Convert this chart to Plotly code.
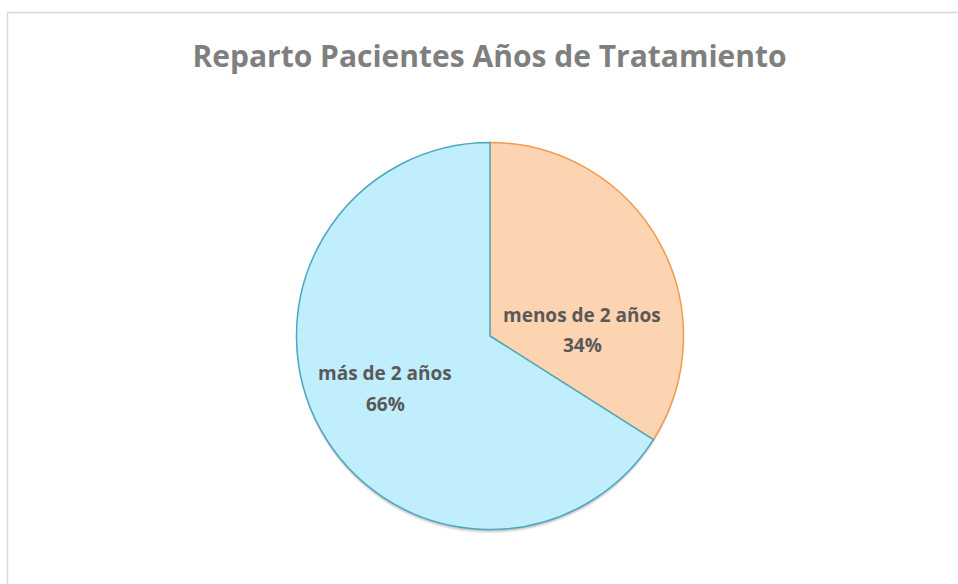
import plotly.graph_objects as go

categories = ["menos de 2 años", "más de 2 años"]
values = [34, 66]
fill_colors = ["#fdd4b2", "#c0eefc"]
line_colors = ["#f39a4c", "#4aa8c0"]
title_text = "Reparto Pacientes Años de Tratamiento"
# label anchor positions (pixels) for each slice's data label: name line and percent line
label_pos = [(582, 315, 345), (385, 373, 404)]

W, H = 958, 584
cx, cy, r = 490, 336, 193.5

total = sum(values)
percents = [f"{round(v / total * 100)}%" for v in values]

fig = go.Figure(go.Pie(
    labels=categories,
    values=values,
    sort=False,
    direction="clockwise",
    rotation=0,
    marker=dict(colors=fill_colors, line=dict(color=line_colors, width=1.5)),
    textinfo="none",
    showlegend=False,
    hoverinfo="label+percent",
    domain=dict(x=[(cx - r) / W, (cx + r) / W], y=[1 - (cy + r) / H, 1 - (cy - r) / H]),
))

annotations = []
font = dict(family="Open Sans", size=19, color="#595959", weight="bold")
for name, pct, (lx, ly1, ly2) in zip(categories, percents, label_pos):
    annotations.append(dict(text=name, x=lx / W, y=1 - ly1 / H, xref="paper", yref="paper",
                            xanchor="center", yanchor="middle", showarrow=False, font=font))
    annotations.append(dict(text=pct, x=lx / W, y=1 - ly2 / H, xref="paper", yref="paper",
                            xanchor="center", yanchor="middle", showarrow=False, font=font))

shapes = [dict(type="rect", xref="paper", yref="paper",
               x0=7.5 / W, x1=1.05, y0=-0.05, y1=1 - 12.5 / H,
               line=dict(color="#d9d9d9", width=1.5), fillcolor="rgba(0,0,0,0)", layer="below")]
# soft drop shadow under the pie
for off, alpha in [(4, 0.05), (3, 0.07), (2, 0.09)]:
    shapes.append(dict(type="circle", xref="paper", yref="paper",
                       x0=(cx - r) / W, x1=(cx + r) / W,
                       y0=1 - (cy + r + off) / H, y1=1 - (cy - r + off) / H,
                       line=dict(width=0), fillcolor=f"rgba(0,0,0,{alpha})", layer="below"))

fig.update_layout(
    width=W, height=H,
    margin=dict(l=0, r=0, t=0, b=0),
    paper_bgcolor="white",
    title=dict(text=title_text, x=489.5 / W, xanchor="center", y=1 - 56 / H, yanchor="middle",
               font=dict(family="Open Sans", size=30, color="#7f7f7f", weight="bold")),
    annotations=annotations,
    shapes=shapes,
)

fig.write_html("out.html", config={"displayModeBar": False},
               post_script="document.body.style.margin='0';document.body.style.overflow='hidden';")
